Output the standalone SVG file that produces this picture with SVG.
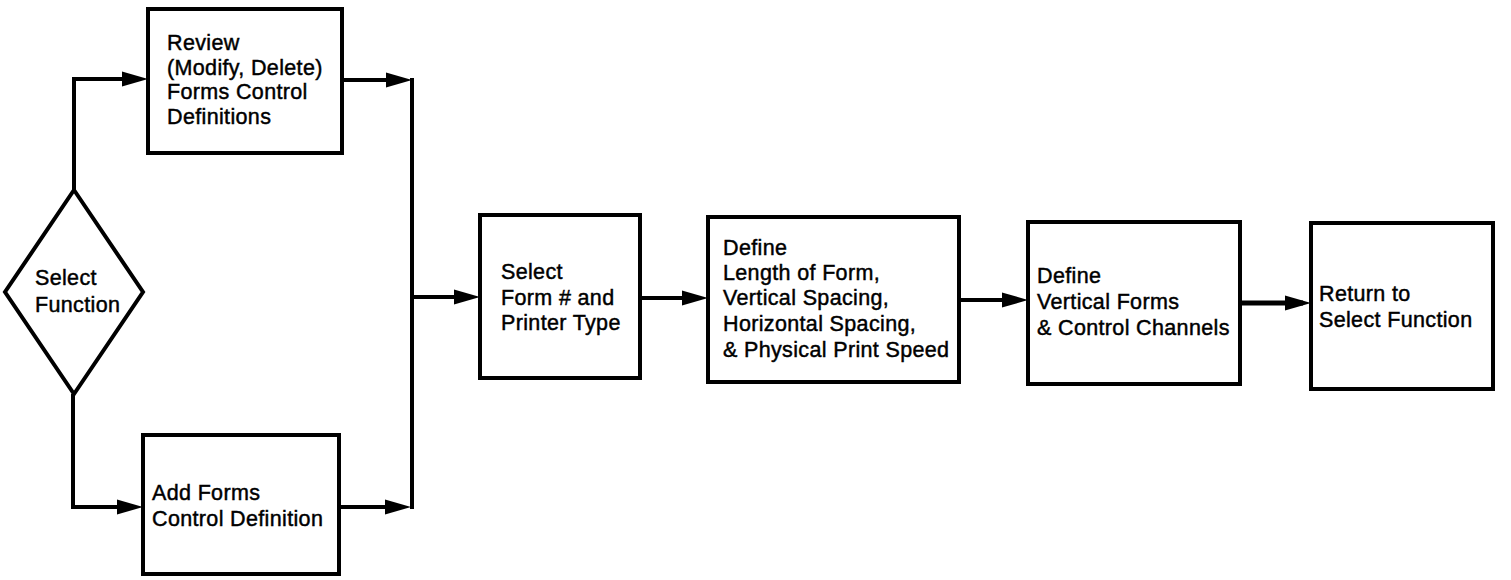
<svg xmlns="http://www.w3.org/2000/svg" width="1511" height="580" viewBox="0 0 1511 580">
  <style>
    .box { fill: #fff; stroke: #000; stroke-width: 4; stroke-linejoin: miter; }
    .lbl { font-family: "Liberation Sans", Arial, sans-serif; font-size: 21.5px; letter-spacing: 0.35px; fill: #000; stroke: #000; stroke-width: 0.45px; }
    .wire { fill: none; stroke: #000; stroke-width: 4; stroke-linejoin: miter; }
    .thick { stroke-width: 5; }
  </style>
  <defs>
    <!-- arrowhead: tip sits 8px past the end of the line -->
    <marker id="arrow" markerUnits="userSpaceOnUse" markerWidth="26" markerHeight="16" refX="18" refY="8" orient="auto">
      <path d="M0,0.5 L26,8 L0,15.5 z" fill="#000"/>
    </marker>
  </defs>
  <rect width="1511" height="580" fill="#fff"/>

  <!-- connectors -->
  <g id="connectors">
    <path class="wire" d="M74,190 L74,79 L140,79" marker-end="url(#arrow)"/>
    <path class="wire" d="M73,394 L73,507 L135,507" marker-end="url(#arrow)"/>
    <path class="wire" d="M342,80 L404,80" marker-end="url(#arrow)"/>
    <path class="wire" d="M339,507 L403,507" marker-end="url(#arrow)"/>
    <path class="wire" d="M412,78 L412,509"/>
    <path class="wire" d="M412,297 L472,297" marker-end="url(#arrow)"/>
    <path class="wire" d="M640,298 L700,298" marker-end="url(#arrow)"/>
    <path class="wire" d="M959,300 L1020,300" marker-end="url(#arrow)"/>
    <path class="wire thick" d="M1240,303 L1303,303" marker-end="url(#arrow)"/>
  </g>

  <!-- decision: select function -->
  <g id="select-function">
    <polygon class="box" points="74,190 143,292 74,394 5,292"/>
    <text class="lbl"><tspan x="35" y="285">Select</tspan><tspan x="35" y="312">Function</tspan></text>
  </g>

  <g id="review">
    <rect class="box" x="148" y="9" width="194" height="144"/>
    <text class="lbl"><tspan x="167" y="50">Review</tspan><tspan x="167" y="75">(Modify, Delete)</tspan><tspan x="167" y="99">Forms Control</tspan><tspan x="167" y="124">Definitions</tspan></text>
  </g>

  <g id="add">
    <rect class="box" x="143" y="435" width="196" height="139"/>
    <text class="lbl"><tspan x="152" y="500">Add Forms</tspan><tspan x="152" y="526">Control Definition</tspan></text>
  </g>

  <g id="select-form">
    <rect class="box" x="480" y="215" width="160" height="163"/>
    <text class="lbl"><tspan x="501" y="279">Select</tspan><tspan x="501" y="305">Form # and</tspan><tspan x="501" y="330">Printer Type</tspan></text>
  </g>

  <g id="define-form">
    <rect class="box" x="708" y="217" width="251" height="165"/>
    <text class="lbl"><tspan x="723" y="255">Define</tspan><tspan x="723" y="280">Length of Form,</tspan><tspan x="723" y="305">Vertical Spacing,</tspan><tspan x="723" y="331">Horizontal Spacing,</tspan><tspan x="723" y="357">&amp; Physical Print Speed</tspan></text>
  </g>

  <g id="define-channels">
    <rect class="box" x="1028" y="222" width="212" height="162"/>
    <text class="lbl"><tspan x="1037" y="283">Define</tspan><tspan x="1037" y="309">Vertical Forms</tspan><tspan x="1037" y="335">&amp; Control Channels</tspan></text>
  </g>

  <g id="return">
    <rect class="box" x="1311" y="223" width="182" height="166"/>
    <text class="lbl"><tspan x="1319" y="301">Return to</tspan><tspan x="1319" y="327">Select Function</tspan></text>
  </g>
</svg>
